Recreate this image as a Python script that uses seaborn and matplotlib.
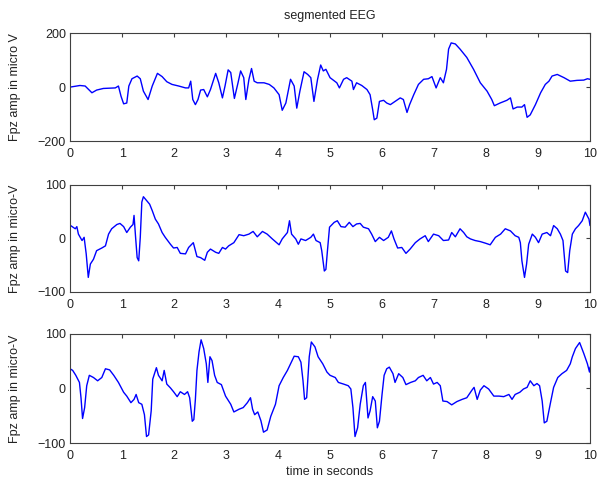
import matplotlib
matplotlib.use("Agg")
import matplotlib.pyplot as plt
import seaborn as sns

# panel 1: segmented EEG
t1 = [0, 0.19, 0.29, 0.42, 0.51, 0.64, 0.87, 0.93, 0.98, 1.03, 1.09, 1.13, 1.19, 1.29, 1.35, 1.41,
      1.50, 1.58, 1.68, 1.77, 1.86, 1.96, 2.09, 2.22, 2.28, 2.32, 2.36, 2.41, 2.46, 2.51, 2.57, 2.64,
      2.70, 2.80, 2.86, 2.93, 2.98, 3.04, 3.09, 3.16, 3.23, 3.28, 3.34, 3.38, 3.44, 3.49, 3.54, 3.60,
      3.73, 3.83, 3.92, 4.02, 4.08, 4.15, 4.24, 4.31, 4.36, 4.42, 4.50, 4.57, 4.63, 4.69, 4.76, 4.82,
      4.87, 4.92, 5.00, 5.13, 5.18, 5.26, 5.32, 5.42, 5.45, 5.51, 5.61, 5.71, 5.77, 5.82, 5.85, 5.90,
      5.95, 6.03, 6.09, 6.16, 6.25, 6.35, 6.41, 6.48, 6.53, 6.61, 6.70, 6.80, 6.89, 6.96, 7.04, 7.12,
      7.18, 7.24, 7.28, 7.33, 7.41, 7.50, 7.63, 7.76, 7.89, 8.02, 8.11, 8.16, 8.27, 8.40, 8.47, 8.52,
      8.60, 8.69, 8.74, 8.79, 8.85, 8.95, 9.05, 9.14, 9.21, 9.27, 9.37, 9.50, 9.62, 9.75, 9.88, 9.95,
      10.0]
v1 = [0, 6, 4, -21, -11, -5, -3, 4, -34, -62, -59, 4, 31, 41, 31, -15,
      -46, 4, 51, 39, 20, 10, 4, -3, -3, 22, -46, -65, -46, -11, -9, -36,
      -9, 51, 16, -40, 4, 64, 54, -42, 16, 60, 35, -46, 29, 69, 22, 16,
      16, 10, -3, -28, -86, -59, 29, 4, -78, -15, 57, 47, 35, -53, 29, 82,
      60, 66, 35, 16, -3, 29, 35, 22, -9, 16, 6, -9, -28, -84, -121, -115,
      -53, -49, -59, -65, -53, -40, -46, -94, -65, -28, 10, 29, 31, 39, -3, 35,
      16, 66, 141, 164, 160, 141, 110, 66, 16, -15, -46, -69, -59, -49, -40, -81,
      -74, -74, -65, -112, -103, -65, -21, 10, 22, 41, 47, 35, 22, 25, 26, 31,
      29]

# panel 2
t2 = [0.01, 0.10, 0.13, 0.16, 0.23, 0.27, 0.31, 0.35, 0.39, 0.45, 0.51, 0.61, 0.68, 0.74, 0.80, 0.90,
      0.96, 1.03, 1.09, 1.16, 1.21, 1.23, 1.26, 1.29, 1.32, 1.35, 1.38, 1.41, 1.47, 1.53, 1.58, 1.64,
      1.70, 1.77, 1.83, 1.93, 1.99, 2.06, 2.12, 2.22, 2.28, 2.37, 2.44, 2.51, 2.59, 2.64, 2.70, 2.80,
      2.86, 2.93, 2.99, 3.05, 3.15, 3.25, 3.34, 3.44, 3.52, 3.60, 3.70, 3.79, 3.89, 4.02, 4.08, 4.18,
      4.22, 4.26, 4.34, 4.39, 4.44, 4.53, 4.63, 4.68, 4.73, 4.81, 4.84, 4.89, 4.92, 4.95, 4.99, 5.08,
      5.14, 5.21, 5.29, 5.37, 5.44, 5.51, 5.58, 5.64, 5.74, 5.80, 5.87, 5.95, 6.03, 6.12, 6.18, 6.23,
      6.30, 6.38, 6.46, 6.54, 6.64, 6.73, 6.83, 6.89, 6.99, 7.09, 7.18, 7.28, 7.34, 7.41, 7.50, 7.57,
      7.63, 7.70, 7.79, 7.89, 7.99, 8.08, 8.18, 8.28, 8.37, 8.47, 8.56, 8.63, 8.66, 8.69, 8.74, 8.78,
      8.82, 8.89, 8.95, 9.01, 9.08, 9.17, 9.24, 9.30, 9.37, 9.43, 9.48, 9.53, 9.57, 9.61, 9.66, 9.72,
      9.78, 9.85, 9.91, 9.98, 10.0]
v2 = [24, 18, 22, 8, -4, 2, -29, -73, -48, -39, -23, -18, -14, 8, 18, 26,
      28, 22, 11, 21, 26, 43, 2, -36, -42, 2, 68, 78, 71, 64, 52, 36,
      27, 11, 2, -11, -18, -17, -28, -29, -17, -8, -34, -36, -41, -26, -20, -26,
      -28, -17, -20, -14, -8, 7, 5, 8, 13, 3, 13, 8, -1, -12, -1, 11,
      33, 8, -1, -11, -1, -4, 2, 8, -4, -8, -23, -61, -58, -23, 21, 30,
      33, 22, 21, 30, 22, 27, 28, 21, 18, 8, -6, 2, -4, 2, 14, -1,
      -18, -17, -28, -20, -8, -1, 5, -6, 8, 5, -4, -3, 11, 3, 18, 11,
      3, -1, -4, -6, -9, -12, 2, 8, 18, 14, 5, 2, -8, -42, -73, -48,
      -11, 8, 2, -8, 8, 11, 5, 24, 18, 8, -4, -61, -64, -23, 8, 18,
      24, 33, 49, 36, 24]

# panel 3
t3 = [0, 0.05, 0.11, 0.18, 0.21, 0.24, 0.28, 0.32, 0.37, 0.45, 0.53, 0.61, 0.68, 0.76, 0.84, 0.93,
      1.03, 1.09, 1.17, 1.23, 1.27, 1.32, 1.38, 1.43, 1.47, 1.51, 1.56, 1.59, 1.66, 1.70, 1.77, 1.81,
      1.86, 1.93, 1.99, 2.06, 2.12, 2.20, 2.26, 2.30, 2.35, 2.38, 2.41, 2.44, 2.48, 2.52, 2.57, 2.62,
      2.65, 2.69, 2.73, 2.78, 2.83, 2.91, 2.99, 3.09, 3.15, 3.25, 3.33, 3.41, 3.47, 3.51, 3.55, 3.61,
      3.67, 3.72, 3.79, 3.86, 3.95, 4.02, 4.10, 4.18, 4.24, 4.31, 4.39, 4.44, 4.48, 4.51, 4.55, 4.60,
      4.64, 4.71, 4.77, 4.86, 4.94, 5.00, 5.10, 5.16, 5.26, 5.35, 5.40, 5.44, 5.48, 5.53, 5.58, 5.64,
      5.68, 5.73, 5.77, 5.82, 5.87, 5.91, 5.95, 6.00, 6.04, 6.09, 6.14, 6.21, 6.25, 6.32, 6.40, 6.46,
      6.55, 6.64, 6.70, 6.79, 6.86, 6.93, 6.99, 7.06, 7.12, 7.17, 7.25, 7.34, 7.44, 7.54, 7.63, 7.73,
      7.77, 7.83, 7.89, 7.96, 8.05, 8.15, 8.25, 8.34, 8.44, 8.50, 8.56, 8.65, 8.72, 8.79, 8.85, 8.92,
      8.98, 9.03, 9.08, 9.12, 9.17, 9.24, 9.30, 9.38, 9.46, 9.55, 9.62, 9.66, 9.72, 9.80, 9.88, 9.95,
      9.99, 10.0]
v3 = [36, 33, 24, 11, -17, -55, -35, 5, 24, 20, 14, 20, 36, 34, 24, 11,
      -7, -14, -26, -20, -11, -26, -29, -48, -88, -85, -41, 17, 38, 24, 14, 33,
      8, 1, -6, -15, -6, -11, -6, -17, -60, -57, -20, 33, 67, 89, 73, 45,
      11, 58, 51, 24, 11, 7, -14, -29, -43, -38, -35, -26, -17, -38, -48, -43,
      -59, -80, -76, -51, -29, 5, 20, 33, 45, 59, 58, 48, 14, -20, -17, 58,
      85, 76, 58, 45, 30, 24, 20, 11, 8, 5, -1, -35, -88, -72, -29, 5,
      11, -54, -41, -15, -23, -72, -60, -11, 24, 36, 39, 27, 11, 27, 20, 7,
      11, 14, 20, 24, 14, 20, 8, 11, 5, -23, -24, -30, -24, -20, -17, -3,
      2, -20, -3, 5, -1, -14, -14, -15, -11, -20, -11, -7, -1, 2, 14, 5,
      9, 5, -23, -63, -60, -26, 2, 20, 27, 33, 45, 58, 73, 84, 64, 45,
      30, 39]

ylabels = ["Fpz amp in micro V", "Fpz amp in micro-V", "Fpz amp in micro-V"]
yticks = [[-200, 0, 200], [-100, 0, 100], [-100, 0, 100]]
xticks = list(range(0, 11))

sns.set_style("white")
plt.rcParams["font.family"] = ["Liberation Sans", "DejaVu Sans"]
plt.rcParams["font.size"] = 9
plt.rcParams["text.color"] = "#222222"
plt.rcParams["xtick.labelcolor"] = "#222222"
plt.rcParams["ytick.labelcolor"] = "#222222"

fig = plt.figure(figsize=(5.99, 4.88), dpi=100)
boxes = [[0.117, 0.711, 0.868, 0.221],
         [0.117, 0.402, 0.868, 0.219],
         [0.117, 0.092, 0.868, 0.224]]

for i, (box, t, v, lab, yt) in enumerate(zip(boxes, [t1, t2, t3], [v1, v2, v3], ylabels, yticks)):
    ax = fig.add_axes(box)
    sns.lineplot(x=t, y=v, ax=ax, color="#0000ff", linewidth=1.0, sort=False, estimator=None)
    ax.set_xlim(0, 10)
    ax.set_ylim(yt[0], yt[-1])
    ax.set_xticks(xticks)
    ax.set_yticks(yt)
    ax.set_ylabel(lab, fontsize=9, color="#222222")
    ax.yaxis.set_label_coords(-0.095, 0.5)
    ax.tick_params(direction="in", length=3, top=True, right=True, labelsize=9,
                   color="#404040")
    ax.tick_params(axis="x", pad=5)
    ax.tick_params(axis="y", pad=3)
    for s in ax.spines.values():
        s.set_color("#404040")
        s.set_linewidth(0.8)
    if i == 0:
        ax.set_title("segmented EEG", fontsize=9, pad=10)
    if i == 2:
        ax.set_xlabel("time in seconds", fontsize=9, labelpad=3)

fig.savefig("out.png", dpi=100)
